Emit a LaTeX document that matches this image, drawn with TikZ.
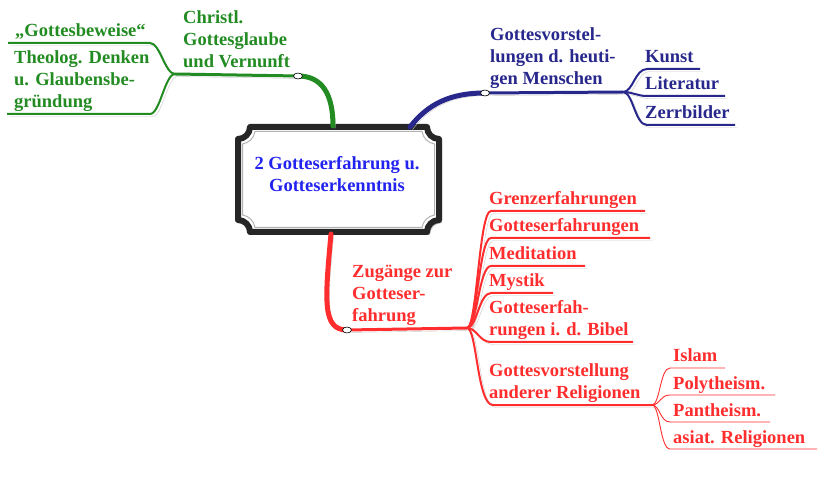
\documentclass[tikz,border=0pt]{standalone}
\usepackage{fontspec}
\setmainfont{Liberation Serif}
\usetikzlibrary{calc,shapes.geometric}
\definecolor{mgreen}{RGB}{34,139,34}
\definecolor{mblue}{RGB}{40,40,140}
\definecolor{mred}{RGB}{255,45,45}
\definecolor{cblue}{RGB}{35,35,240}
\definecolor{shad}{RGB}{200,200,200}
\newcommand\mlines[1]{\begin{tabular}[t]{@{}l@{}}#1\end{tabular}}
\newcommand\clines[1]{\begin{tabular}[t]{@{}c@{}}#1\end{tabular}}
\begin{document}
\begin{tikzpicture}[x=1pt,y=-1pt,
  lbl/.style={anchor=base west, inner sep=0pt, font=\fontsize{18.5}{22}\selectfont\bfseries},
  sh/.style={preaction={draw=shad, transform canvas={shift={(2.5pt,-2.5pt)}}}},
  mainbr/.style={sh, line width=5pt, line cap=round},
  midbr/.style={sh, line width=3pt},
  childbr/.style={sh, line width=2pt},
  subbr/.style={line width=0.9pt},
  oval/.style={ellipse, draw=black, line width=0.6pt, fill=white, minimum width=9pt, minimum height=6pt, inner sep=0pt}]
\useasboundingbox (0,0) rectangle (833,478);

% central frame
\path[fill=shad] (253,130) -- (430,130) .. controls (430,136.6) and (435.4,142) .. (442,142)
  -- (442,223) .. controls (435.4,223) and (430,228.4) .. (430,235) -- (253,235)
  .. controls (253,228.4) and (247.6,223) .. (241,223) -- (241,142)
  .. controls (247.6,142) and (253,136.6) .. (253,130) -- cycle;
\path[draw=black!85, line width=6pt, fill=white, line join=round]
  (250,127) -- (427,127) .. controls (427,133.6) and (432.4,139) .. (439,139)
  -- (439,220) .. controls (432.4,220) and (427,225.4) .. (427,232) -- (250,232)
  .. controls (250,225.4) and (244.6,220) .. (238,220) -- (238,139)
  .. controls (244.6,139) and (250,133.6) .. (250,127) -- cycle;
\path[draw=black!30, line width=1pt]
  (255,131.5) -- (422,131.5) .. controls (423,138) and (428,143) .. (434.5,144)
  -- (434.5,215) .. controls (428,216) and (423,221) .. (422,227.5) -- (255,227.5)
  .. controls (254,221) and (249,216) .. (242.5,215) -- (242.5,144)
  .. controls (249,143) and (254,138) .. (255,131.5) -- cycle;
\node[lbl, anchor=base, text=cblue] (center) at (337,170)
  {\clines{2 Gotteserfahrung u.\\Gotteserkenntnis}};

% anchor points
\coordinate (gstart) at (333,126);
\coordinate (gfork) at (175,74);
\coordinate (bstart) at (410,127);
\coordinate (bfork) at (623,92);
\coordinate (rstart) at (331,234);
\coordinate (rfork) at (467,328);
\coordinate (rsub) at (652,405);

% green branch
\draw[mainbr, draw=mgreen] (gstart) .. controls (333,94) and (322,76) .. (298,76);
\draw[midbr, draw=mgreen] (298,76) -- (gfork);
\draw[childbr, draw=mgreen] (gfork) .. controls (165,74) and (160,43) .. (150,43) -- (8,43);
\draw[childbr, draw=mgreen] (gfork) .. controls (165,74) and (160,114) .. (150,114) -- (7,114);
\node[oval] (go) at (298,76) {};

% blue branch
\draw[mainbr, draw=mblue] (bstart) .. controls (428,104) and (450,93) .. (485,93);
\draw[midbr, draw=mblue] (485,93) -- (bfork);
\draw[childbr, draw=mblue] (bfork) .. controls (633,92) and (635,69) .. (647,69) -- (700,69);
\draw[childbr, draw=mblue] (bfork) .. controls (633,92) and (637,96) .. (647,96) -- (725,96);
\draw[childbr, draw=mblue] (bfork) .. controls (633,92) and (635,125) .. (647,125) -- (735,125);
\node[oval] (bo) at (485,93) {};

% red branch
\draw[mainbr, draw=mred] (rstart) .. controls (325,300) and (322,330) .. (347,330);
\draw[midbr, draw=mred] (347,330) -- (rfork);
\draw[childbr, draw=mred] (rfork) .. controls (477,328) and (479,211) .. (491,211) -- (645,211);
\draw[childbr, draw=mred] (rfork) .. controls (477,328) and (479,238) .. (491,238) -- (650,238);
\draw[childbr, draw=mred] (rfork) .. controls (477,328) and (479,266) .. (491,266) -- (585,266);
\draw[childbr, draw=mred] (rfork) .. controls (477,328) and (479,293) .. (491,293) -- (553,293);
\draw[childbr, draw=mred] (rfork) .. controls (477,328) and (479,342) .. (491,342) -- (633,342);
\draw[childbr, draw=mred] (rfork) .. controls (477,328) and (477,405) .. (493,405) -- (rsub);
\draw[subbr, draw=mred] (rsub) .. controls (660,405) and (660,368) .. (670,368) -- (725,368);
\draw[subbr, draw=mred] (rsub) .. controls (660,405) and (660,395) .. (670,395) -- (775,395);
\draw[subbr, draw=mred] (rsub) .. controls (660,405) and (660,422) .. (670,422) -- (770,422);
\draw[subbr, draw=mred] (rsub) .. controls (660,405) and (660,449) .. (670,449) -- (817,449);
\node[oval] (ro) at (347,330) {};

% green labels
\node[lbl, text=mgreen] (gc) at (183,24) {\mlines{Christl.\\Gottesglaube\\und Vernunft}};
\node[lbl, text=mgreen] (gq) at (15,37) {„Gottesbeweise“};
\node[lbl, text=mgreen] (gt) at (14,64) {\mlines{Theolog. Denken\\u. Glaubensbe-\\gründung}};

% blue labels
\node[lbl, text=mblue] (bg) at (490,41) {\mlines{Gottesvorstel-\\lungen d. heuti-\\gen Menschen}};
\node[lbl, text=mblue] (bk) at (645,63) {Kunst};
\node[lbl, text=mblue] (bl) at (645,90) {Literatur};
\node[lbl, text=mblue] (bz) at (645,119) {Zerrbilder};

% red labels
\node[lbl, text=mred] (rz) at (352,278) {\mlines{Zugänge zur\\Gotteser-\\fahrung}};
\node[lbl, text=mred] (r1) at (489,205) {Grenzerfahrungen};
\node[lbl, text=mred] (r2) at (489,232) {Gotteserfahrungen};
\node[lbl, text=mred] (r3) at (489,260) {Meditation};
\node[lbl, text=mred] (r4) at (489,287) {Mystik};
\node[lbl, text=mred] (r5) at (489,314) {\mlines{Gotteserfah-\\rungen i. d. Bibel}};
\node[lbl, text=mred] (r6) at (489,377) {\mlines{Gottesvorstellung\\anderer Religionen}};
\node[lbl, text=mred] (s1) at (673,362) {Islam};
\node[lbl, text=mred] (s2) at (673,389) {Polytheism.};
\node[lbl, text=mred] (s3) at (673,416) {Pantheism.};
\node[lbl, text=mred] (s4) at (673,443) {asiat. Religionen};
\end{tikzpicture}
\end{document}
